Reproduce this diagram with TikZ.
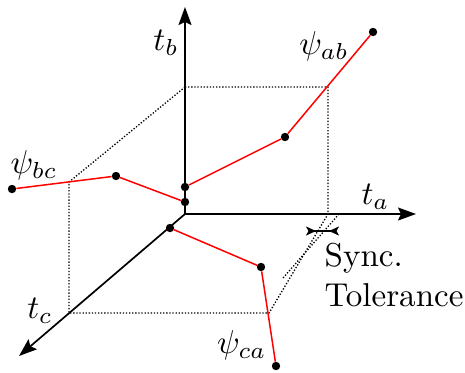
\documentclass[tikz,border=0pt]{standalone}
\usetikzlibrary{arrows.meta}
\begin{document}
\begin{tikzpicture}[x=1bp,y=-1bp,
  axis/.style={line width=1.7bp, -{Stealth[length=18bp,width=13bp,inset=3bp]}},
  guide/.style={line width=1.3bp, dash pattern=on 1.3bp off 1.8bp},
  trace/.style={red, line width=1.5bp},
  pt/.style={circle, fill=black, inner sep=0pt, minimum size=8.4bp},
  lbl/.style={inner sep=0pt, font=\fontsize{10}{12}\selectfont, scale=3.32}]
\useasboundingbox (0,0) rectangle (465,372);
% axis points
\coordinate (O) at (185,214);
\coordinate (tbEnd) at (185,7);
\coordinate (taEnd) at (416,214);
\coordinate (tcEnd) at (19,356);
% box corners
\coordinate (B1) at (185,87);
\coordinate (B2) at (328,87);
\coordinate (B3) at (328,214);
\coordinate (B4) at (69,182);
\coordinate (B5) at (69,313);
\coordinate (B6) at (269,313);
\coordinate (S1) at (339,214);
\coordinate (S2) at (283,278);
% dotted box
\draw[guide] (B1) -- (B2) -- (B3) -- (B6) -- (B5) -- (B4) -- cycle;
\draw[guide] (S1) -- (S2);
% axes
\draw[axis] (O) -- (tbEnd);
\draw[axis] (O) -- (taEnd);
\draw[axis] (O) -- (tcEnd);
% points
\node[pt] (b1) at (185,187) {};
\node[pt] (b2) at (185,202) {};
\node[pt] (c1) at (170,228) {};
\node[pt] (ab1) at (285,137) {};
\node[pt] (ab2) at (373,32) {};
\node[pt] (bc1) at (116,176) {};
\node[pt] (bc2) at (12,189) {};
\node[pt] (ca1) at (261,267) {};
\node[pt] (ca2) at (276,366) {};
% traces
\draw[trace] (b1) -- (ab1) -- (ab2);
\draw[trace] (b2) -- (bc1) -- (bc2);
\draw[trace] (c1) -- (ca1) -- (ca2);
% sync tolerance marker
\coordinate (T1) at (306,231);
\coordinate (T2) at (339,231);
\draw[line width=1.4bp, {Stealth[reversed,length=10bp,width=9bp,inset=2.5bp]}-{Stealth[reversed,length=10bp,width=9bp,inset=2.5bp]}] (T1) -- (T2);
% labels
\node[lbl] (ltb) at (166,42.5) {$t_b$};
\node[lbl] (lta) at (375.5,196.5) {$t_a$};
\node[lbl] (ltc) at (40,310.5) {$t_c$};
\node[lbl] (lab) at (324,46.7) {$\psi_{ab}$};
\node[lbl] (lbc) at (34,165) {$\psi_{bc}$};
\node[lbl] (lca) at (241.7,345) {$\psi_{ca}$};
\node[lbl, align=left, anchor=north west] (sync) at (324,242.5) {Sync.\\Tolerance};
\end{tikzpicture}
\end{document}
